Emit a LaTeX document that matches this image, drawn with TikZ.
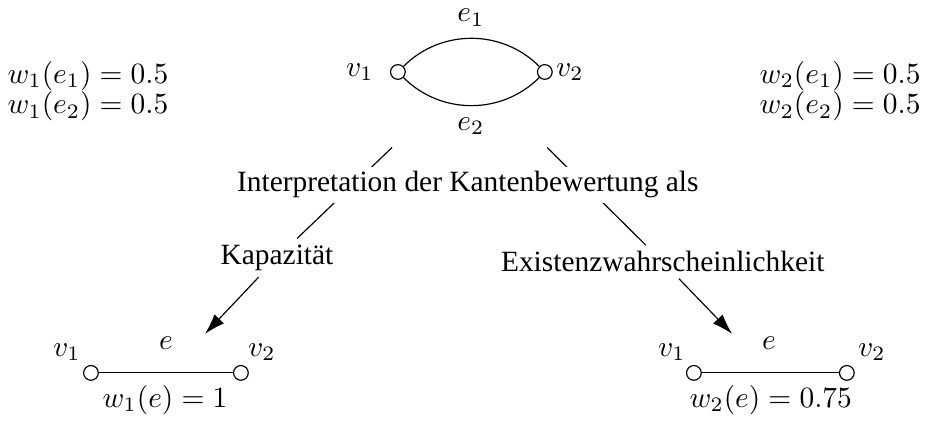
\documentclass[tikz,border=0pt]{standalone}
\usepackage{fontspec}
\setmainfont{Liberation Serif}
\usetikzlibrary{arrows.meta}
\tikzset{
  vertex/.style={circle,draw,fill=white,inner sep=0pt,minimum size=5pt},
  lbl/.style={inner sep=1pt},
  pfeil/.style={-{Latex[length=7pt,width=4.5pt]}},
}
\begin{document}
\begin{tikzpicture}
\useasboundingbox (0,0) rectangle (11.09,-5.10);
\node[inner sep=0pt,minimum width=2.4cm,minimum height=1.79cm] (graph) at (5.627,-0.86) {};
\node[vertex] (a1) at (4.755,-0.86) {};
\node[vertex] (a2) at (6.511,-0.86) {};
\draw (a1) to[bend left=45] (a2);
\draw (a1) to[bend right=45] (a2);
\node[lbl] (ta1) at (4.301,-0.86) {$v_1$};
\node[lbl] (ta2) at (6.810,-0.86) {$v_2$};
\node[lbl] (te1) at (5.627,-0.21) {$e_1$};
\node[lbl] (te2) at (5.627,-1.505) {$e_2$};
\node[lbl] (w11) at (1.051,-0.908) {$w_1(e_1) = 0.5$};
\node[lbl] (w12) at (1.051,-1.27) {$w_1(e_2) = 0.5$};
\node[lbl] (w21) at (10.04,-0.908) {$w_2(e_1) = 0.5$};
\node[lbl] (w22) at (10.04,-1.27) {$w_2(e_2) = 0.5$};
\node[inner sep=2pt] (kap) at (3.31,-3.08) {Kapazität};
\node[inner sep=2pt] (exi) at (7.92,-3.13) {Existenzwahrscheinlichkeit};
\draw (graph) -- (kap);
\draw (graph) -- (exi);
\node[fill=white,inner sep=1.5pt] (interp) at (5.59,-2.21) {Interpretation der Kantenbewertung als};
\coordinate (ziel1) at (2.45,-3.99);
\coordinate (ziel2) at (8.75,-3.99);
\draw[pfeil] (kap) -- (ziel1);
\draw[pfeil] (exi) -- (ziel2);
\node[vertex] (b1) at (1.087,-4.456) {};
\node[vertex] (b2) at (2.879,-4.456) {};
\draw (b1) -- (b2);
\node[lbl] (tb1) at (0.80,-4.205) {$v_1$};
\node[lbl] (tb2) at (3.13,-4.205) {$v_2$};
\node[lbl] (tbe) at (1.983,-4.098) {$e$};
\node[lbl] (wb) at (1.971,-4.779) {$w_1(e) = 1$};
\node[vertex] (c1) at (8.292,-4.456) {};
\node[vertex] (c2) at (10.12,-4.456) {};
\draw (c1) -- (c2);
\node[lbl] (tc1) at (8.03,-4.205) {$v_1$};
\node[lbl] (tc2) at (10.42,-4.205) {$v_2$};
\node[lbl] (tce) at (9.19,-4.098) {$e$};
\node[lbl] (wc) at (9.21,-4.779) {$w_2(e) = 0.75$};
\end{tikzpicture}
\end{document}
